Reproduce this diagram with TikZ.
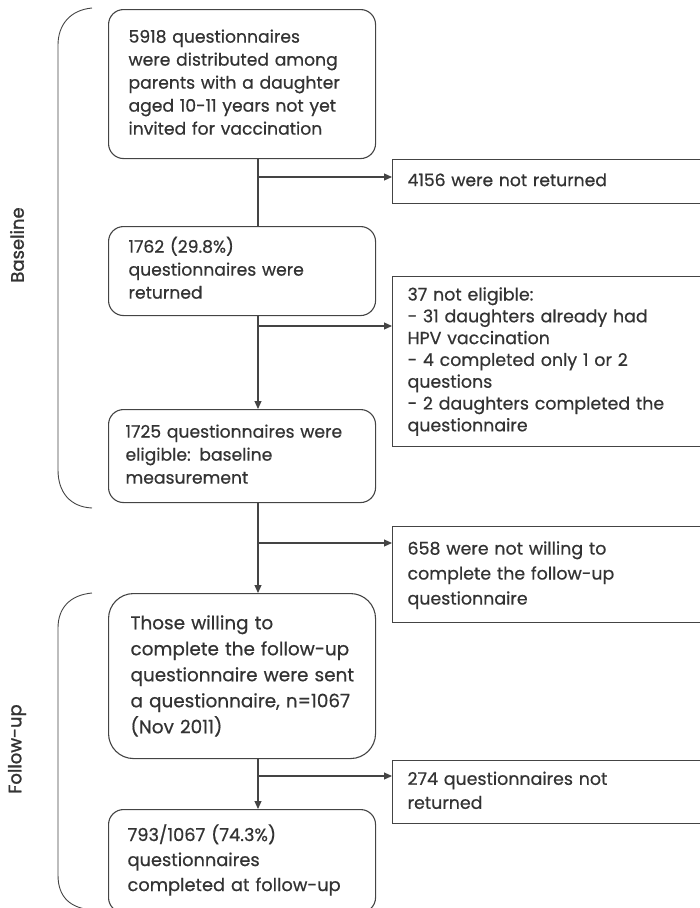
\documentclass[tikz,border=0pt]{standalone}
\usepackage{fontspec}
\setmainfont{Poppins}[FakeBold=0.6]
\newfontfamily\labelfont{Poppins}[FakeBold=1.4]
\usetikzlibrary{arrows.meta}
\definecolor{txt}{HTML}{333333}
\definecolor{ln}{HTML}{444444}
\newcommand{\lines}[1]{\begin{tabular}{@{}l@{}}#1\end{tabular}}
\tikzset{
  x=1pt, y=-1pt,
  boxbase/.style={draw=ln, line width=1.1pt, rectangle, anchor=north west, align=left,
    text=txt, font=\fontsize{17.2}{23}\selectfont, inner ysep=0pt},
  rbox/.style={boxbase, rounded corners=15pt},
  sbox/.style={boxbase, inner xsep=15pt},
  arr/.style={draw=ln, line width=1.1pt, -{Triangle[length=8pt,width=7pt]}},
  plain/.style={draw=ln, line width=1.1pt},
  sidelabel/.style={rotate=90, text=txt, font=\labelfont\fontsize{18}{20}\selectfont}
}
\begin{document}
\begin{tikzpicture}
\useasboundingbox (0,0) rectangle (700,908);
\clip (0,0) rectangle (700,908);
% main boxes
\node[rbox, inner xsep=20pt, text width=227pt, minimum width=267pt, minimum height=149pt] (b1) at (108,9)
  {\lines{5918 questionnaires\\were distributed among\\parents with a daughter\\aged 10-11 years not yet\\invited for vaccination}};
\node[rbox, inner xsep=20pt, text width=227pt, minimum width=267pt, minimum height=89pt] (b2) at (108,226)
  {\lines{1762 (29.8\%)\\questionnaires were\\returned}};
\node[rbox, inner xsep=17pt, text width=233pt, minimum width=267pt, minimum height=93pt] (b3) at (108,409)
  {\lines{1725 questionnaires were\\eligible: baseline\\measurement}};
\node[rbox, rounded corners=25pt, inner xsep=22pt, text width=223pt, minimum width=267pt, minimum height=165pt,
  font=\fontsize{18.4}{26}\selectfont] (b4) at (108,593)
  {\lines{Those willing to\\complete the follow-up\\questionnaire were sent\\a questionnaire, n=1067\\(Nov 2011)}};
\node[rbox, inner xsep=19pt, text width=229pt, minimum width=267pt, minimum height=103pt,
  font=\fontsize{17.8}{25}\selectfont] (b5) at (108,809)
  {\lines{793/1067 (74.3\%)\\questionnaires\\completed at follow-up}};
% side boxes
\node[sbox, text width=350pt, minimum width=380pt, minimum height=44pt] (r1) at (392,159)
  {\lines{4156 were not returned}};
\node[sbox, text width=350pt, minimum width=380pt, minimum height=170pt, font=\fontsize{17.4}{21.8}\selectfont] (r2) at (392,276)
  {\lines{37 not eligible:\\- 31 daughters already had\\HPV vaccination\\- 4 completed only 1 or 2\\questions\\- 2 daughters completed the\\questionnaire}};
\node[sbox, text width=350pt, minimum width=380pt, minimum height=96pt, font=\fontsize{17.4}{25}\selectfont] (r3) at (392,526)
  {\lines{658 were not willing to\\complete the follow-up\\questionnaire}};
\node[sbox, text width=350pt, minimum width=380pt, minimum height=63pt, font=\fontsize{17.4}{24}\selectfont] (r4) at (392,760)
  {\lines{274 questionnaires not\\returned}};
% branch points on the trunk
\coordinate (j1) at (258,177);
\coordinate (j2) at (258,326);
\coordinate (j3) at (258,543);
\coordinate (j4) at (258,776);
% connectors
\draw[plain] (j1 |- b1.south) -- (j1 |- b2.north);
\draw[arr] (j1) -- (j1 -| r1.west);
\draw[arr] (j2 |- b2.south) -- (j2 |- b3.north);
\draw[arr] (j2) -- (j2 -| r2.west);
\draw[arr] (j3 |- b3.south) -- (j3 |- b4.north);
\draw[arr] (j3) -- (j3 -| r3.west);
\draw[arr] (j4 |- b4.south) -- (j4 |- b5.north);
\draw[arr] (j4) -- (j4 -| r4.west);
% braces
\draw[plain, line width=0.9pt] (92,8) .. controls (70,10) and (58,25) .. (58,45) -- (58,470)
  .. controls (58,492) and (70,507) .. (92,508);
\draw[plain, line width=0.9pt] (92,593) .. controls (70,595) and (58,608) .. (58,628) -- (58,875)
  .. controls (58,897) and (70,908) .. (92,910);
% side labels
\node[sidelabel] (lb) at (17,245) {Baseline};
\node[sidelabel] (lf) at (17,749) {Follow-up};
\end{tikzpicture}
\end{document}
